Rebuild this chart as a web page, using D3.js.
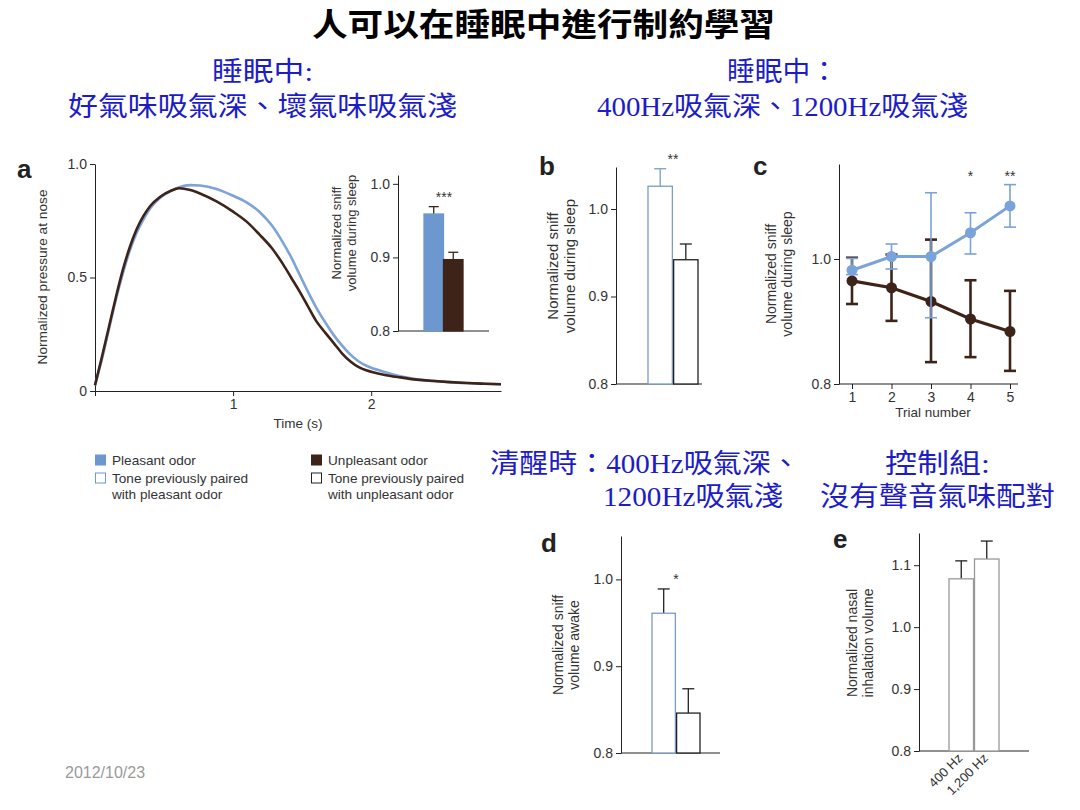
<!DOCTYPE html>
<html>
<head>
<meta charset="utf-8">
<script src="https://cdn.jsdelivr.net/npm/d3@7"></script>
<style>
  body { margin: 0; background: #fff; }
  svg text { font-family: "Liberation Sans", Arial, sans-serif; fill: #333; }
  .cjk { font-family: "Liberation Serif", "Noto Sans CJK TC", serif; }
</style>
</head>
<body>
<svg width="1080" height="810"></svg>
<script>
// ---- data ----
const timeS      = [0, 0.05, 0.10, 0.15, 0.20, 0.25, 0.30, 0.35, 0.40, 0.47, 0.55, 0.61, 0.69, 0.76, 0.88, 1.0, 1.1, 1.19, 1.28, 1.36, 1.42, 1.48, 1.54, 1.6, 1.67, 1.73, 1.79, 1.85, 1.91, 1.97, 2.09, 2.21, 2.33, 2.45, 2.57, 2.69, 2.82, 2.94];
const pleasant   = [0.025, 0.14, 0.27, 0.40, 0.515, 0.615, 0.695, 0.755, 0.805, 0.85, 0.882, 0.898, 0.907, 0.905, 0.89, 0.86, 0.83, 0.79, 0.73, 0.655, 0.59, 0.515, 0.44, 0.37, 0.30, 0.245, 0.20, 0.16, 0.13, 0.11, 0.085, 0.065, 0.052, 0.045, 0.039, 0.035, 0.032, 0.03];
const unpleasant = [0.025, 0.15, 0.28, 0.41, 0.53, 0.63, 0.71, 0.77, 0.815, 0.855, 0.882, 0.893, 0.885, 0.87, 0.835, 0.79, 0.745, 0.69, 0.63, 0.56, 0.50, 0.44, 0.375, 0.31, 0.255, 0.21, 0.165, 0.13, 0.105, 0.09, 0.072, 0.06, 0.05, 0.044, 0.039, 0.035, 0.032, 0.03];

const insetCats = ["pleasant", "unpleasant"];
const insetVals = [0.959, 0.897];
const insetErr  = [0.969, 0.907];

const bCats = ["pleasantTone", "unpleasantTone"];
const bVals = [1.026, 0.942];
const bErr  = [1.046, 0.960];

const trials = [1, 2, 3, 4, 5];
const cPleasant    = [0.982, 1.004, 1.004, 1.042, 1.085];
const cPleasantLo  = [0.975, 0.984, 0.906, 1.008, 1.051];
const cPleasantHi  = [1.001, 1.024, 1.106, 1.074, 1.119];
const cUnpleasant  = [0.965, 0.954, 0.932, 0.904, 0.884];
const cUnpleasantLo= [0.928, 0.901, 0.835, 0.843, 0.821];
const cUnpleasantHi= [1.002, 1.007, 1.031, 0.966, 0.949];
const cStars = ["", "", "", "*", "**"];

const dVals = [0.961, 0.846];
const dErr  = [0.989, 0.874];

const eCats = ["400 Hz", "1,200 Hz"];
const eVals = [1.078, 1.110];
const eErr  = [1.107, 1.139];

const BLUE = "#6c98cf", BROWN = "#3e2319", INK = "#222";

const svg = d3.select("svg");

// ---- headings ----
function cjk(txt, x, y, len, size, color, bold) {
  svg.append("text").attr("class", "cjk")
    .attr("x", x).attr("y", y)
    .attr("dominant-baseline", "central")
    .attr("textLength", len).attr("lengthAdjust", "spacingAndGlyphs")
    .style("font-size", size + "px")
    .style("font-weight", bold ? "bold" : "normal")
    .style("fill", color)
    .text(txt);
}
cjk("人可以在睡眠中進行制約學習", 312, 25, 463, 32, "#000", true);
const HB = "#1c1cc8";
cjk("睡眠中:", 212, 72, 101, 27, HB);
cjk("好氣味吸氣深、壞氣味吸氣淺", 68, 107, 389, 27, HB);
cjk("睡眠中：", 727, 72, 111, 27, HB);
cjk("400Hz吸氣深、1200Hz吸氣淺", 597, 107, 371, 27, HB);
cjk("清醒時：400Hz吸氣深、", 490, 464, 310, 27, HB);
cjk("1200Hz吸氣淺", 603, 497, 180, 27, HB);
cjk("控制組:", 885, 464, 105, 27, HB);
cjk("沒有聲音氣味配對", 820, 497, 235, 27, HB);

svg.append("text").attr("x", 65).attr("y", 778)
  .style("font-size", "16px").style("fill", "#9a9a9a").text("2012/10/23");

// ---- helpers ----
const TICK = "14px";
function panelLetter(t, x, y) {
  svg.append("text").attr("x", x).attr("y", y)
    .style("font-size", "26px").style("font-weight", "bold").style("fill", "#222").text(t);
}
function yAxis(scale, x, ticks, fmt) {
  const g = svg.append("g").attr("transform", `translate(${x},0)`)
    .call(d3.axisLeft(scale).tickValues(ticks).tickFormat(fmt).tickSize(5).tickSizeOuter(0));
  g.select(".domain").attr("stroke", INK);
  g.selectAll(".tick line").attr("stroke", INK);
  g.selectAll(".tick text").attr("x", -8).style("font-size", TICK).style("fill", "#333").style("font-family", "Liberation Sans, Arial");
  return g;
}
function yLabel(lines, x, y, size) {
  const t = svg.append("text").attr("transform", `translate(${x},${y}) rotate(-90)`)
    .attr("text-anchor", "middle").style("font-size", size + "px");
  lines.forEach((l, i) => t.append("tspan").attr("x", 0).attr("dy", i ? "1.15em" : 0).text(l));
}
function baseLine(x1, x2, y) {
  svg.append("line").attr("x1", x1).attr("x2", x2).attr("y1", y).attr("y2", y).attr("stroke", INK).attr("stroke-width", 1.2);
}
function bars(cats, vals, errs, x, y, fills, strokes, errColors, capW) {
  const g = svg.append("g");
  cats.forEach((c, i) => {
    const bx = x(c) + x.bandwidth() / 2;
    g.append("line").attr("x1", bx).attr("x2", bx).attr("y1", y(vals[i])).attr("y2", y(errs[i]))
      .attr("stroke", errColors[i]).attr("stroke-width", 1.3);
    g.append("line").attr("x1", bx - capW).attr("x2", bx + capW).attr("y1", y(errs[i])).attr("y2", y(errs[i]))
      .attr("stroke", errColors[i]).attr("stroke-width", 1.3);
  });
  g.selectAll("rect").data(cats).join("rect")
    .attr("x", d => x(d)).attr("width", x.bandwidth())
    .attr("y", (d, i) => y(vals[i])).attr("height", (d, i) => y.range()[0] - y(vals[i]))
    .attr("fill", (d, i) => fills[i]).attr("stroke", (d, i) => strokes[i]).attr("stroke-width", 1.3);
}
function stars(t, x, y) {
  svg.append("text").attr("x", x).attr("y", y).attr("text-anchor", "middle")
    .style("font-size", "14px").style("fill", "#333").text(t);
}

// ---- panel a ----
panelLetter("a", 17, 178);
const ax = d3.scaleLinear().domain([0, 2.94]).range([95, 501]);
const ay = d3.scaleLinear().domain([0, 1]).range([391, 164]);
yAxis(ay, 95, [0, 0.5, 1.0], d => d === 0 ? "0" : d3.format(".1f")(d));
const axg = svg.append("g").attr("transform", "translate(0,391)")
  .call(d3.axisBottom(ax).tickValues([0, 1, 2]).tickFormat(d => d === 0 ? "" : d).tickSize(5).tickSizeOuter(0));
axg.select(".domain").attr("stroke", INK);
axg.selectAll(".tick line").attr("stroke", INK);
axg.selectAll(".tick text").style("font-size", TICK).style("fill", "#333").style("font-family", "Liberation Sans, Arial");
svg.append("text").attr("x", 298).attr("y", 428).attr("text-anchor", "middle").style("font-size", "13.5px").text("Time (s)");
yLabel(["Normalized pressure at nose"], 47, 277, 13.7);

const line = d3.line().x((d, i) => ax(timeS[i])).y(d => ay(d)).curve(d3.curveMonotoneX);
svg.append("path").attr("d", line(pleasant)).attr("fill", "none").attr("stroke", "#7ea3d6").attr("stroke-width", 2.6);
svg.append("path").attr("d", line(unpleasant)).attr("fill", "none").attr("stroke", BROWN).attr("stroke-width", 2.6);

// inset
const iy = d3.scaleLinear().domain([0.8, 1.012]).range([331, 175]);
const ix = d3.scaleBand().domain(insetCats).range([424, 463]).padding(0);
yAxis(iy, 398, [0.8, 0.9, 1.0], d3.format(".1f"));
baseLine(398, 489, 331);
bars(insetCats, insetVals, insetErr, ix, iy, [BLUE, BROWN], [BLUE, BROWN], [BROWN, BROWN], 5);
stars("***", 444, 202);
yLabel(["Normalized sniff", "volume during sleep"], 341, 233, 13);

// legend
const leg = [
  { x: 95, y: 460, fill: BLUE, stroke: BLUE, lines: ["Pleasant odor"] },
  { x: 95, y: 478, fill: "#fff", stroke: "#6c98cf", lines: ["Tone previously paired", "with pleasant odor"] },
  { x: 311, y: 460, fill: BROWN, stroke: BROWN, lines: ["Unpleasant odor"] },
  { x: 311, y: 478, fill: "#fff", stroke: "#222", lines: ["Tone previously paired", "with unpleasant odor"] }
];
leg.forEach(l => {
  svg.append("rect").attr("x", l.x + 0.5).attr("y", l.y - 5).attr("width", 10).attr("height", 10)
    .attr("fill", l.fill).attr("stroke", l.stroke).attr("stroke-width", 1);
  l.lines.forEach((t, i) => svg.append("text").attr("x", l.x + 17).attr("y", l.y + 5 + i * 16)
    .style("font-size", "13.6px").text(t));
});

// ---- panel b ----
panelLetter("b", 539, 175);
const by = d3.scaleLinear().domain([0.8, 1.048]).range([384, 167]);
const bx = d3.scaleBand().domain(bCats).range([648, 698]).paddingInner(0.05);
yAxis(by, 616, [0.8, 0.9, 1.0], d3.format(".1f"));
baseLine(616, 702, 384);
bars(bCats, bVals, bErr, bx, by, ["#fff", "#fff"], ["#7b9cc4", "#222"], ["#7b9cc4", "#222"], 6);
stars("**", 673, 164);
yLabel(["Normalized sniff", "volume during sleep"], 558, 266, 15);

// ---- panel c ----
panelLetter("c", 753, 175);
const cy = d3.scaleLinear().domain([0.8, 1.152]).range([384, 164]);
const cx = d3.scaleLinear().domain([1, 5]).range([852, 1010]);
yAxis(cy, 839, [0.8, 1.0], d3.format(".1f"));
const cxg = svg.append("g").attr("transform", "translate(0,384)")
  .call(d3.axisBottom(cx).tickValues(trials).tickFormat(d3.format("d")).tickSize(5).tickSizeOuter(0));
cxg.select(".domain").remove();
cxg.selectAll(".tick line").attr("stroke", INK);
cxg.selectAll(".tick text").style("font-size", TICK).style("fill", "#333").style("font-family", "Liberation Sans, Arial");
baseLine(839, 1018, 384);
svg.append("text").attr("x", 933).attr("y", 417).attr("text-anchor", "middle").style("font-size", "13.5px").text("Trial number");
yLabel(["Normalized sniff", "volume during sleep"], 776, 274, 14);

function series(vals, lo, hi, color, lw, ew) {
  const g = svg.append("g");
  trials.forEach((t, i) => {
    g.append("line").attr("x1", cx(t)).attr("x2", cx(t)).attr("y1", cy(lo[i])).attr("y2", cy(hi[i])).attr("stroke", color).attr("stroke-width", ew);
    [lo[i], hi[i]].forEach(v => g.append("line").attr("x1", cx(t) - 6).attr("x2", cx(t) + 6).attr("y1", cy(v)).attr("y2", cy(v)).attr("stroke", color).attr("stroke-width", ew));
  });
  g.append("path").attr("d", d3.line().x((d, i) => cx(trials[i])).y(d => cy(d))(vals))
    .attr("fill", "none").attr("stroke", color).attr("stroke-width", lw);
  g.selectAll("circle").data(vals).join("circle")
    .attr("cx", (d, i) => cx(trials[i])).attr("cy", d => cy(d)).attr("r", 5.5).attr("fill", color);
}
series(cUnpleasant, cUnpleasantLo, cUnpleasantHi, BROWN, 3.2, 2.6);
series(cPleasant, cPleasantLo, cPleasantHi, "#7aa3d9", 3, 1.6);
trials.forEach((t, i) => { if (cStars[i]) stars(cStars[i], cx(t), 181); });

// ---- panel d ----
panelLetter("d", 541, 552);
const dy = d3.scaleLinear().domain([0.8, 1.05]).range([753, 536]);
const dx = d3.scaleBand().domain(bCats).range([652, 700]).paddingInner(0.05);
yAxis(dy, 621, [0.8, 0.9, 1.0], d3.format(".1f"));
baseLine(621, 720, 753);
bars(bCats, dVals, dErr, dx, dy, ["#fff", "#fff"], ["#7b9cc4", "#222"], ["#222", "#222"], 6);
stars("*", 676, 584);
yLabel(["Normalized sniff", "volume awake"], 563, 645, 14);

// ---- panel e ----
panelLetter("e", 833, 548);
const ey = d3.scaleLinear().domain([0.8, 1.152]).range([751, 533]);
const ex = d3.scaleBand().domain(eCats).range([949, 999]).paddingInner(0.04);
yAxis(ey, 919, [0.8, 0.9, 1.0, 1.1], d3.format(".1f"));
baseLine(919, 1029, 751);
bars(eCats, eVals, eErr, ex, ey, ["#fff", "#fff"], ["#999", "#999"], ["#222", "#222"], 6);
yLabel(["Normalized nasal", "inhalation volume"], 857, 643, 14);
eCats.forEach(c => {
  const px = ex(c) + ex.bandwidth() / 2;
  svg.append("text").attr("transform", `translate(${px + 2},${759}) rotate(-45)`)
    .attr("text-anchor", "end").style("font-size", "13px").text(c);
});
</script>
</body>
</html>
